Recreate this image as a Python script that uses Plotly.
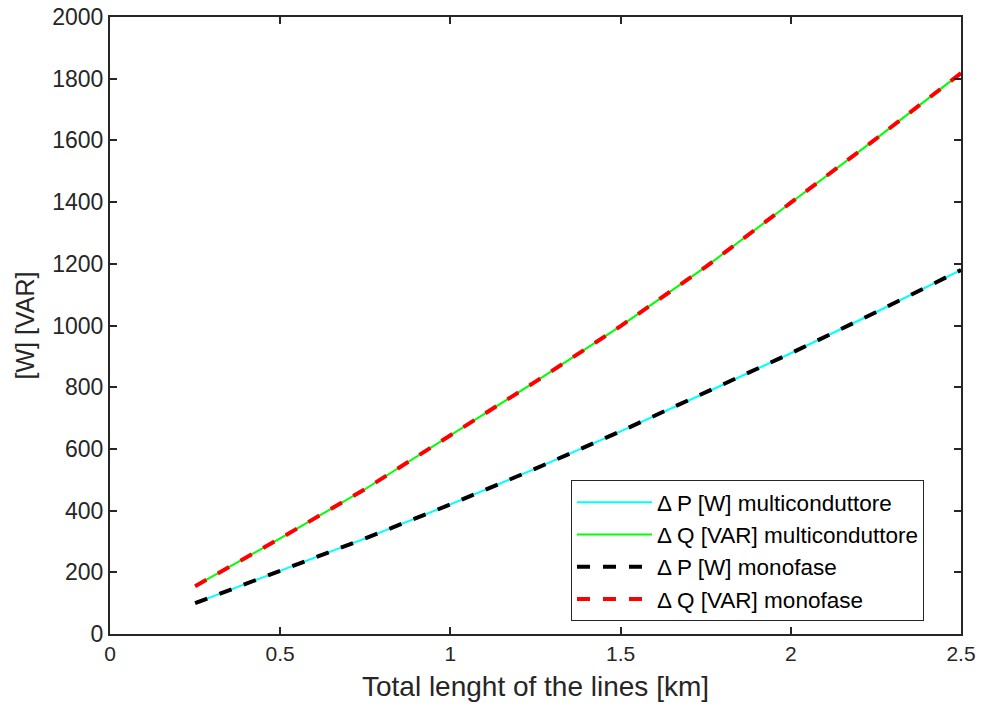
import plotly.graph_objects as go

length_km = [0.25, 0.5, 0.75, 1.0, 1.25, 1.5, 1.75, 2.0, 2.25, 2.5]
dP_multi = [100, 204, 310, 420, 536, 657, 782, 910, 1043, 1180]
dQ_multi = [155, 310, 470, 643, 818, 998, 1190, 1398, 1605, 1818]
dP_mono = list(dP_multi)
dQ_mono = list(dQ_multi)

x_ticks = [0, 0.5, 1, 1.5, 2, 2.5]
x_tick_labels = ["0", "0.5", "1", "1.5", "2", "2.5"]
y_ticks = list(range(0, 2001, 200))

font_fam = "Liberation Sans, Arial, sans-serif"
axcol = "#262626"

fig = go.Figure()
fig.add_trace(go.Scatter(x=length_km, y=dP_multi, mode="lines",
                         name="\u0394 P [W] multiconduttore",
                         line=dict(color="#00FFFF", width=2)))
fig.add_trace(go.Scatter(x=length_km, y=dQ_multi, mode="lines",
                         name="\u0394 Q [VAR] multiconduttore",
                         line=dict(color="#00FF00", width=2)))
fig.add_trace(go.Scatter(x=length_km, y=dP_mono, mode="lines",
                         name="\u0394 P [W] monofase",
                         line=dict(color="#000000", width=4, dash="13px,13px")))
fig.add_trace(go.Scatter(x=length_km, y=dQ_mono, mode="lines",
                         name="\u0394 Q [VAR] monofase",
                         line=dict(color="#FF0000", width=4, dash="13px,13px")))

axis_common = dict(
    showgrid=False, zeroline=False, showline=True, linecolor=axcol, linewidth=2,
    mirror="ticks", ticks="inside", ticklen=7, tickwidth=1.5, tickcolor=axcol,
    automargin=False,
)

fig.update_layout(
    width=981, height=715,
    margin=dict(l=110, r=20, t=17, b=81),
    paper_bgcolor="white", plot_bgcolor="white",
    font=dict(family=font_fam, color=axcol),
    xaxis=dict(range=[0, 2.5], tickvals=x_ticks, ticktext=x_tick_labels,
               tickfont=dict(family=font_fam, size=21, color=axcol),
               title=dict(text="Total lenght of the lines [km]",
                          font=dict(family=font_fam, size=28, color=axcol), standoff=12),
               **axis_common),
    yaxis=dict(range=[0, 2000], tickvals=y_ticks,
               tickfont=dict(family=font_fam, size=23, color=axcol),
               title=dict(text="[W] [VAR]",
                          font=dict(family=font_fam, size=25, color=axcol), standoff=10),
               **axis_common),
    legend=dict(x=0.9565, y=0.021, xanchor="right", yanchor="bottom",
                bgcolor="white", bordercolor=axcol, borderwidth=1,
                font=dict(family=font_fam, size=22.5, color="#000000"),
                tracegroupgap=0, itemwidth=75),
    showlegend=True,
)

fig.write_html("out.html")
